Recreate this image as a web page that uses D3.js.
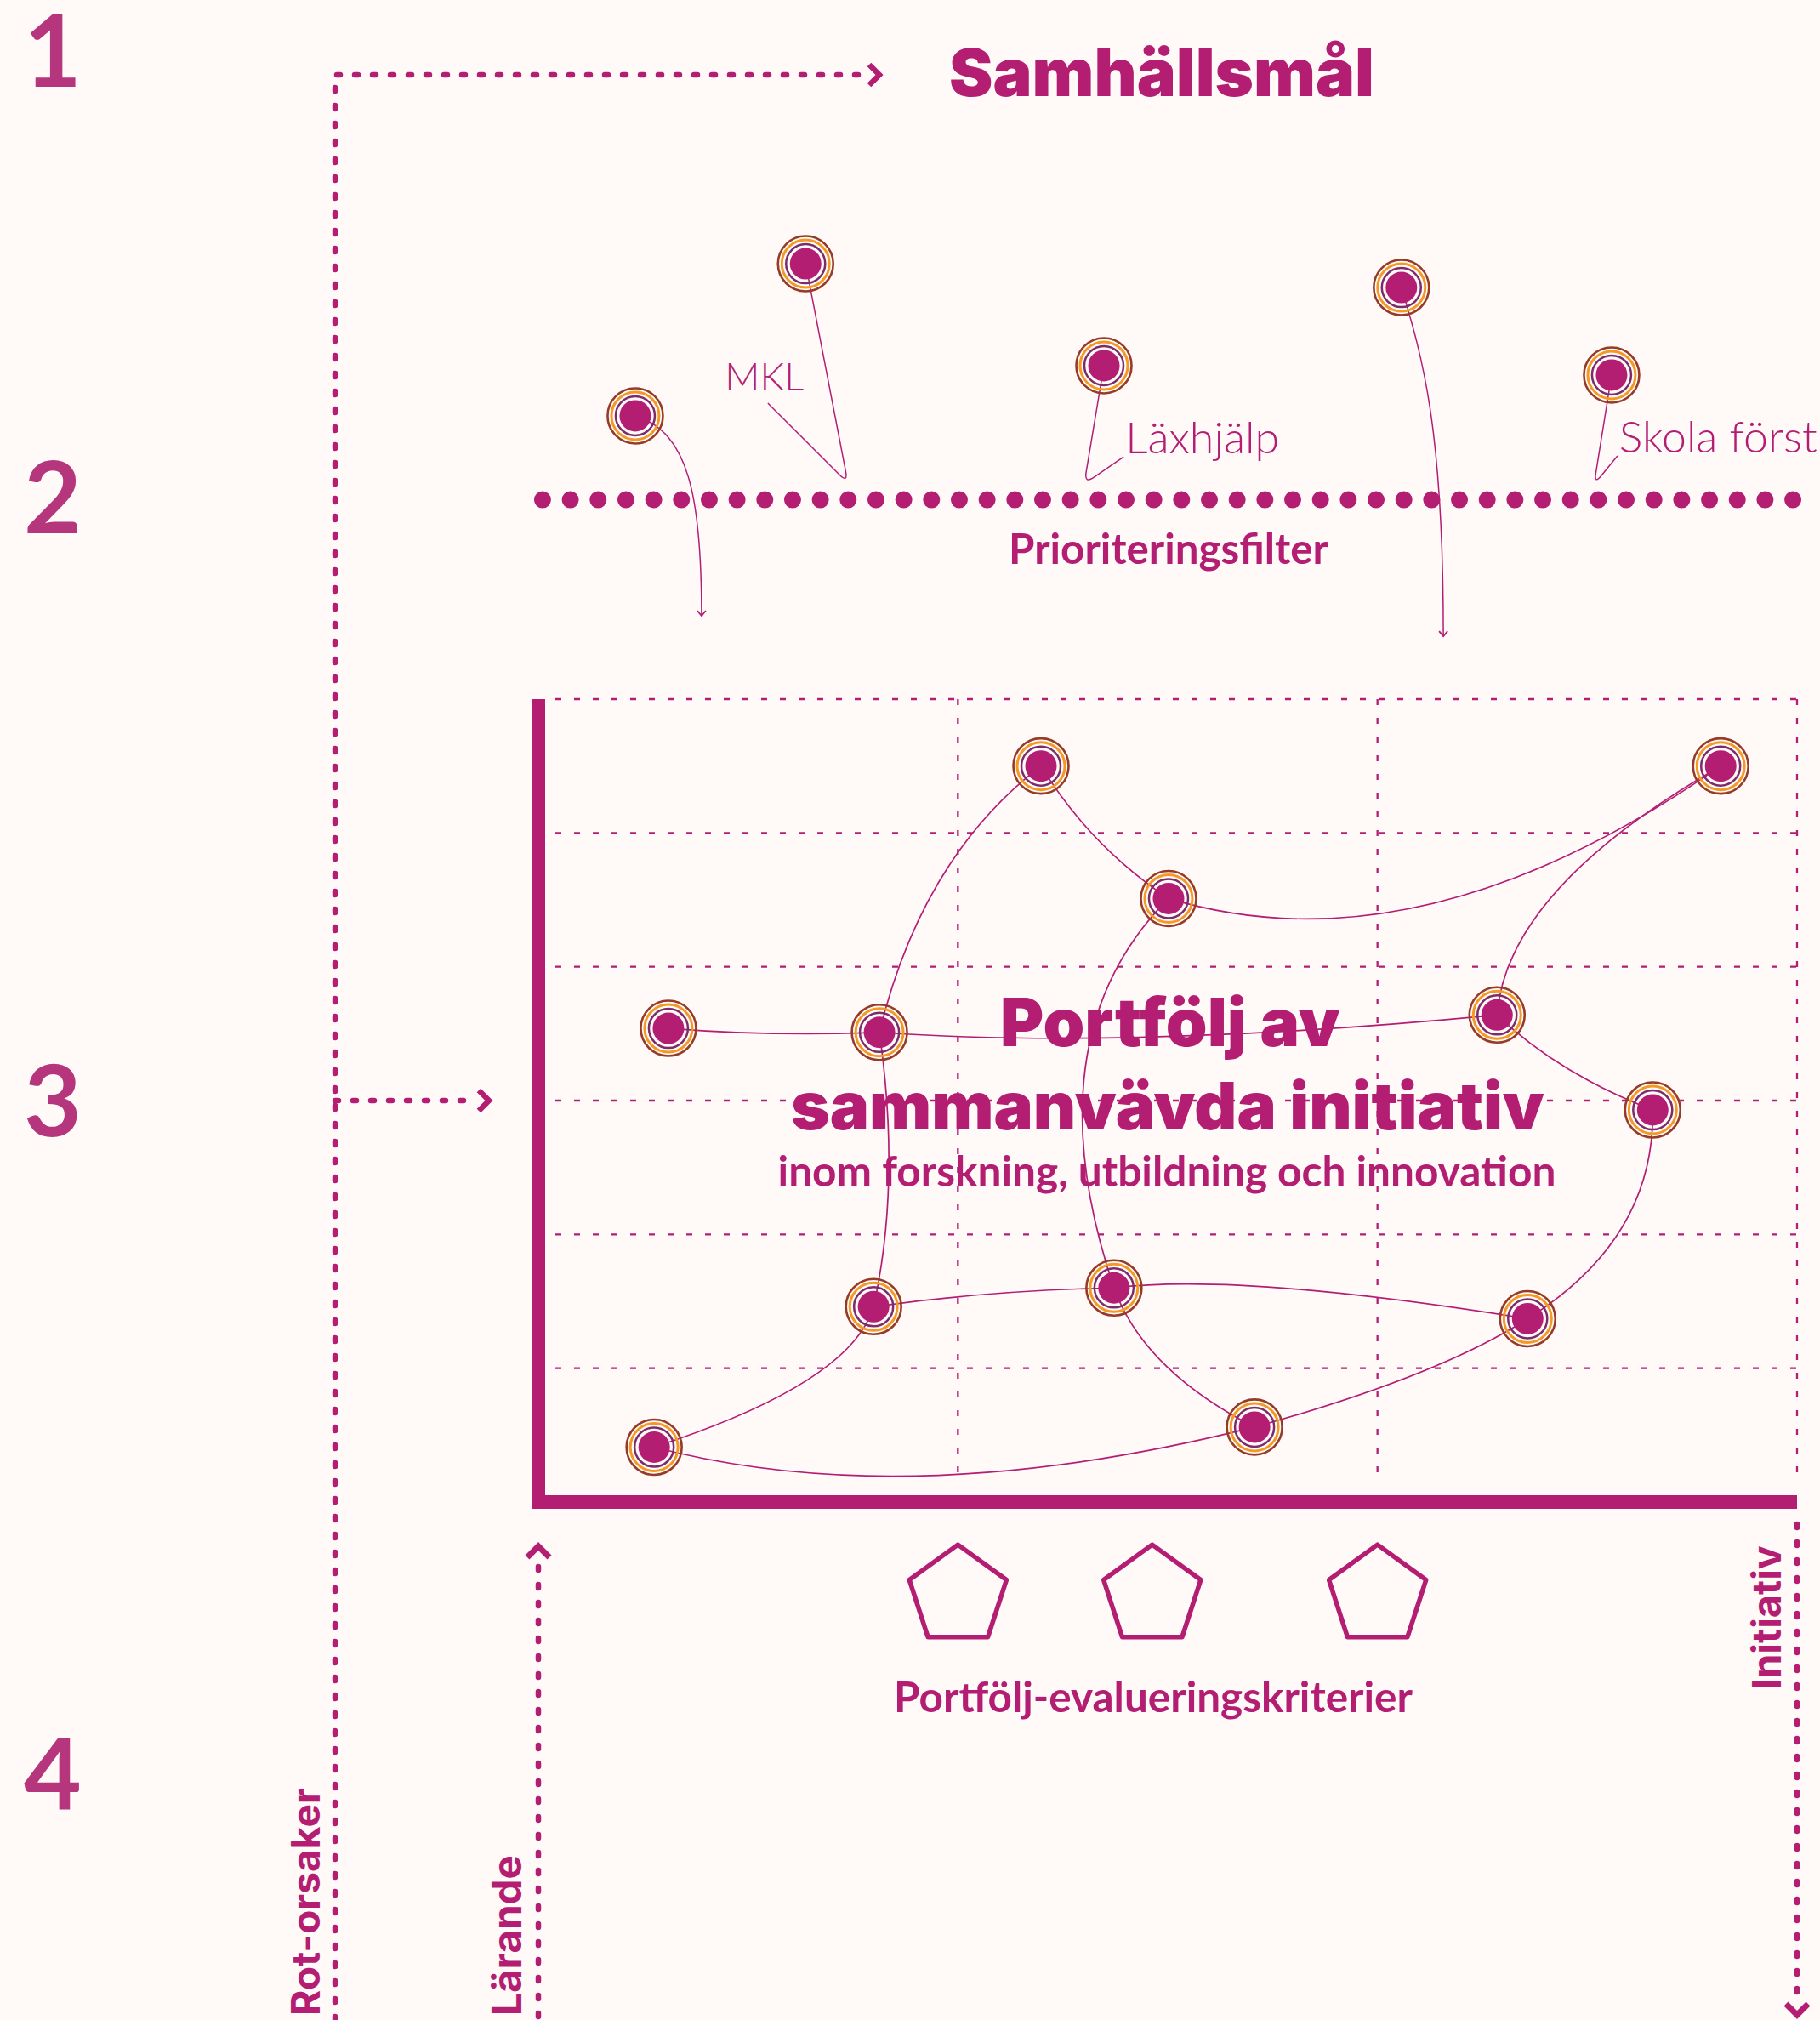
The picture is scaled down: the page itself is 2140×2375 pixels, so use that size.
<!DOCTYPE html>
<html>
<head>
<meta charset="utf-8">
<script src="https://cdn.jsdelivr.net/npm/d3@7"></script>
<style>
  html, body { margin: 0; padding: 0; background: #fffaf8; }
  svg { display: block; }
</style>
</head>
<body>
<svg id="chart"></svg>
<script>
// --- data -------------------------------------------------------------
var stepLabels = ["1", "2", "3", "4"];

// initiatives inside the portfolio (column units x 0..3, row units y 0..6)
var initX = [1.198, 2.818, 1.502, 0.310, 0.813, 2.285, 2.656, 0.799, 1.372, 2.358, 0.276, 1.707];
var initY = [5.50, 5.50, 4.51, 3.54, 3.51, 3.64, 2.93, 1.46, 1.60, 1.37, 0.41, 0.56];

// links: [from, to, skew, bend]
var links = [
  [10, 11, 0.42, 0.125],
  [10, 7, 0.77, 0.20],
  [7, 8, 0.50, -0.03],
  [8, 9, 0.30, -0.06],
  [11, 9, 0.65, 0.07],
  [9, 6, 0.55, 0.28],
  [5, 6, 0.45, 0.10],
  [5, 1, 0.30, -0.23],
  [2, 1, 0.40, 0.234],
  [0, 2, 0.50, 0.11],
  [0, 4, 0.45, 0.175],
  [4, 7, 0.55, -0.09],
  [2, 8, 0.40, 0.30],
  [8, 11, 0.40, 0.19],
  [3, 4, 0.50, 0.03],
  [4, 5, 0.40, 0.04]
];

// ideas above the prioritisation filter
var ideaX = [0.231, 0.637, 1.348, 2.057, 2.558];
var ideaY = [8.117, 9.254, 8.492, 9.076, 8.422];
var ideaLabels = ["", "MKL", "Läxhjälp", "", "Skola först"];
var ideaEndX = [0.389, 0.738, 1.301, 2.157, 2.516];
var ideaEndY = [6.623, 7.614, 7.608, 6.470, 7.602];
var ideaTipX = [null, 0.547, 1.395, null, 2.572];
var ideaTipY = [null, 8.212, 7.811, null, 7.818];
var ideaPull = [0.8, null, null, 0.5, null];

var filterLevel = 7.49;
var criteriaX = [1, 1.463, 2];
var criteriaLevel = -0.70;

var titleText = "Samhällsmål";
var filterText = "Prioriteringsfilter";
var portfolioLines = ["Portfölj av", "sammanvävda initiativ"];
var portfolioSub = "inom forskning, utbildning och innovation";
var criteriaText = "Portfölj-evalueringskriterier";
var axisTexts = ["Rot-orsaker", "Lärande", "Initiativ"];

// --- setup ------------------------------------------------------------
var W = 2140, H = 2375;
var MAG = "#b31e73", NUM = "#b5367c", BG = "#fffaf8",
    BROWN = "#953b28", ORANGE = "#f29a25", PURPLE = "#7b2d6b";

var svg = d3.select("#chart").attr("width", W).attr("height", H);
svg.append("rect").attr("width", W).attr("height", H).attr("fill", BG);

var x = d3.scaleLinear().domain([0, 3]).range([633, 2113]);
var y = d3.scaleLinear().domain([0, 6]).range([1766, 822]);

function fit(sel, target) {
  var w = sel.node().getComputedTextLength();
  var fs = parseFloat(sel.attr("font-size"));
  sel.attr("font-size", fs * target / w);
  return sel;
}

function chevron(g, cx, cy, angle, half, depth, sw, color) {
  g.append("path")
    .attr("d", "M" + (-depth) + "," + (-half) + "L0,0L" + (-depth) + "," + half)
    .attr("transform", "translate(" + cx + "," + cy + ") rotate(" + angle + ")")
    .attr("fill", "none")
    .attr("stroke", color || MAG)
    .attr("stroke-width", sw)
    .attr("stroke-linejoin", "miter");
}

function dotted(g, d) {
  g.append("path")
    .attr("d", d)
    .attr("fill", "none")
    .attr("stroke", MAG)
    .attr("stroke-width", 6.5)
    .attr("stroke-linecap", "round")
    .attr("stroke-dasharray", "4 17");
}

// --- frame arrows -----------------------------------------------------
var frame = svg.append("g");
var rootX = 394, topY = 88;
dotted(frame, "M" + rootX + "," + H + "V" + topY + "H1018");
chevron(frame, 1034, topY, 0, 12, 12, 6.5);
dotted(frame, "M" + rootX + "," + y(3) + "H558");
chevron(frame, 575, y(3), 0, 12, 12, 6.5);
dotted(frame, "M" + x(0) + "," + (H - 4) + "V1834");
chevron(frame, x(0), 1818, -90, 13, 13, 7);
dotted(frame, "M" + x(3) + ",1792V2352");
chevron(frame, x(3), 2369, 90, 13, 13, 7);

// --- grid -------------------------------------------------------------
var grid = svg.append("g")
  .attr("stroke", MAG).attr("stroke-width", 2.3)
  .attr("stroke-dasharray", "7 15").attr("fill", "none");

grid.selectAll("line.h")
  .data(d3.range(1, 7))
  .enter().append("line")
  .attr("x1", x(0) + 20).attr("x2", x(3))
  .attr("y1", function(d) { return y(d); })
  .attr("y2", function(d) { return y(d); });

grid.selectAll("line.v")
  .data([1, 2, 3])
  .enter().append("line")
  .attr("x1", function(d) { return x(d); })
  .attr("x2", function(d) { return x(d); })
  .attr("y1", y(6)).attr("y2", y(0) - 22);

svg.append("path")
  .attr("d", "M" + x(0) + "," + y(6) + "V" + y(0) + "H" + x(3))
  .attr("fill", "none").attr("stroke", MAG)
  .attr("stroke-width", 16).attr("stroke-linejoin", "miter");

// --- filter -----------------------------------------------------------
svg.append("line")
  .attr("x1", x(0.01)).attr("x2", x(2.99))
  .attr("y1", y(filterLevel)).attr("y2", y(filterLevel))
  .attr("stroke", MAG).attr("stroke-width", 20)
  .attr("stroke-linecap", "round")
  .attr("stroke-dasharray", "0 " + ((x(2.99) - x(0.01)) / 45));

// --- links ------------------------------------------------------------
var nodes = initX.map(function(v, i) { return {x: x(v), y: y(initY[i])}; });

svg.append("g").selectAll("path")
  .data(links)
  .enter().append("path")
  .attr("d", function(l) {
    var a = nodes[l[0]], b = nodes[l[1]];
    var dx = b.x - a.x, dy = b.y - a.y, L = Math.hypot(dx, dy);
    var ux = dx / L, uy = dy / L, nx = -uy, ny = ux;
    var cx = a.x + ux * l[2] * L + nx * l[3] * L;
    var cy = a.y + uy * l[2] * L + ny * l[3] * L;
    var p = d3.path();
    p.moveTo(a.x, a.y);
    p.quadraticCurveTo(cx, cy, b.x, b.y);
    return p.toString();
  })
  .attr("fill", "none").attr("stroke", MAG).attr("stroke-width", 1.7);

// --- idea pins --------------------------------------------------------
var ideas = ideaX.map(function(v, i) {
  return {
    x: x(v), y: y(ideaY[i]), label: ideaLabels[i],
    ex: x(ideaEndX[i]), ey: y(ideaEndY[i]),
    tx: ideaTipX[i] == null ? null : x(ideaTipX[i]),
    ty: ideaTipY[i] == null ? null : y(ideaTipY[i]),
    pull: ideaPull[i]
  };
});

var pins = svg.append("g");
ideas.forEach(function(d) {
  var p = d3.path();
  p.moveTo(d.x, d.y);
  if (d.tx == null) {
    var dx = d.ex - d.x, dy = d.ey - d.y;
    p.bezierCurveTo(d.x + d.pull * dx, d.y + (1 - d.pull) * 0.4 * dy,
                    d.ex, d.y + 0.4 * dy, d.ex, d.ey);
    pins.append("path").attr("d", p.toString())
      .attr("fill", "none").attr("stroke", MAG).attr("stroke-width", 1.5);
    chevron(pins, d.ex, d.ey, 90, 5, 6, 1.8);
  } else {
    var r = 14;
    var l1 = Math.hypot(d.x - d.ex, d.y - d.ey), l2 = Math.hypot(d.tx - d.ex, d.ty - d.ey);
    var p1x = d.ex + (d.x - d.ex) / l1 * r, p1y = d.ey + (d.y - d.ey) / l1 * r;
    var p2x = d.ex + (d.tx - d.ex) / l2 * r, p2y = d.ey + (d.ty - d.ey) / l2 * r;
    p.lineTo(p1x, p1y);
    p.quadraticCurveTo(d.ex, d.ey, p2x, p2y);
    p.lineTo(d.tx, d.ty);
    pins.append("path").attr("d", p.toString())
      .attr("fill", "none").attr("stroke", MAG).attr("stroke-width", 1.5);

    var left = d.tx < d.ex;
    var t = pins.append("text")
      .attr("x", left ? d.tx - 4 : d.tx + 2)
      .attr("y", left ? d.ty - 15 : d.ty - 4)
      .attr("text-anchor", left ? "middle" : "start")
      .attr("font-family", "Lato").attr("font-weight", 300)
      .attr("font-size", 47).attr("fill", MAG)
      .text(d.label);
    fit(t, {"MKL": 93, "Läxhjälp": 181, "Skola först": 233}[d.label]);
  }
});

// --- texts ------------------------------------------------------------
var texts = svg.append("g").attr("fill", MAG);

stepLabels.forEach(function(s, i) {
  texts.append("text")
    .attr("x", 62).attr("y", [102, 627, 1336, 2128][i])
    .attr("text-anchor", "middle")
    .attr("font-family", "Lato").attr("font-weight", 700)
    .attr("font-size", 117).attr("fill", NUM)
    .text(s);
});

fit(texts.append("text").attr("x", 1366).attr("y", 113)
  .attr("text-anchor", "middle").attr("font-family", "Inter")
  .attr("font-weight", 900).attr("font-size", 78).text(titleText), 500);

fit(texts.append("text").attr("x", 1374).attr("y", 663)
  .attr("text-anchor", "middle").attr("font-family", "Lato")
  .attr("font-weight", 700).attr("font-size", 46).text(filterText), 376);

fit(texts.append("text").attr("x", 1376).attr("y", 1230)
  .attr("text-anchor", "middle").attr("font-family", "Inter")
  .attr("font-weight", 900).attr("font-size", 78).text(portfolioLines[0]), 400);

fit(texts.append("text").attr("x", 1373).attr("y", 1328)
  .attr("text-anchor", "middle").attr("font-family", "Inter")
  .attr("font-weight", 900).attr("font-size", 78).text(portfolioLines[1]), 886);

fit(texts.append("text").attr("x", 1372).attr("y", 1395)
  .attr("text-anchor", "middle").attr("font-family", "Lato")
  .attr("font-weight", 700).attr("font-size", 46).text(portfolioSub), 915);

fit(texts.append("text").attr("x", 1356).attr("y", 2013)
  .attr("text-anchor", "middle").attr("font-family", "Lato")
  .attr("font-weight", 700).attr("font-size", 46).text(criteriaText), 610);

var axisPos = [[376, 2370, 268], [613, 2370, 189], [2094, 1987, 170]];
axisTexts.forEach(function(s, i) {
  var a = axisPos[i];
  var t = texts.append("text")
    .attr("transform", "translate(" + a[0] + "," + a[1] + ") rotate(-90)")
    .attr("font-family", "Inter").attr("font-weight", 700)
    .attr("font-size", 46).text(s);
  fit(t, a[2]);
});

// --- criteria pentagons -----------------------------------------------
var R = 60;
svg.append("g").selectAll("path")
  .data(criteriaX)
  .enter().append("path")
  .attr("d", function(c) {
    var cx = x(c), cy = y(criteriaLevel);
    return d3.line()(d3.range(5).map(function(k) {
      var ang = -Math.PI / 2 + k * 2 * Math.PI / 5;
      return [cx + R * Math.cos(ang), cy + R * Math.sin(ang)];
    })) + "Z";
  })
  .attr("fill", "none").attr("stroke", MAG)
  .attr("stroke-width", 5.5).attr("stroke-linejoin", "round");

// --- nodes ------------------------------------------------------------
function drawNodes(data) {
  var g = svg.append("g").selectAll("g")
    .data(data).enter().append("g")
    .attr("transform", function(d) { return "translate(" + d.x + "," + d.y + ")"; });
  g.append("circle").attr("r", 32.5).attr("fill", "none").attr("stroke", BROWN).attr("stroke-width", 2.6);
  g.append("circle").attr("r", 28).attr("fill", "none").attr("stroke", ORANGE).attr("stroke-width", 3);
  g.append("circle").attr("r", 23).attr("fill", "none").attr("stroke", PURPLE).attr("stroke-width", 2.5);
  g.append("circle").attr("r", 18.5).attr("fill", MAG);
}
drawNodes(nodes);
drawNodes(ideas);
</script>
</body>
</html>
